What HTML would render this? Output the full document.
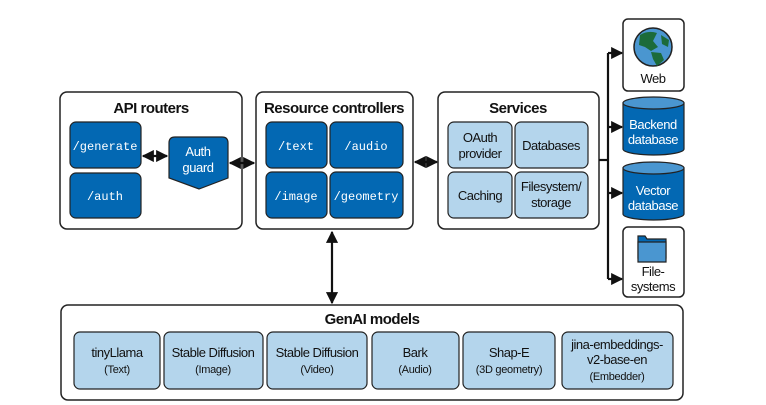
<!DOCTYPE html>
<html><head><meta charset="utf-8"><style>
html,body{margin:0;padding:0;background:#fff;}
svg{display:block;}
text{font-family:"Liberation Sans",sans-serif;}
.t{font-size:15px;font-weight:bold;fill:#111;letter-spacing:-0.5px}
.m{font-family:"Liberation Mono",monospace;font-size:12px;fill:#fff}
.w{font-size:13px;fill:#fff;letter-spacing:-0.4px}
.k{font-size:13px;fill:#111;letter-spacing:-0.5px}
.s{font-size:11px;fill:#111;letter-spacing:-0.3px}
</style></head><body>
<svg width="766" height="405" viewBox="0 0 766 405" xmlns="http://www.w3.org/2000/svg">
<defs>
<marker id="a" viewBox="0 0 10 10" refX="9" refY="5" markerWidth="5.5" markerHeight="5.5" orient="auto-start-reverse"><path d="M0,0L10,5L0,10z" fill="#111"/></marker>
</defs>
<g stroke="#222" stroke-width="1.5" fill="#fff">
<rect x="60" y="92" width="182" height="137" rx="7"/>
<rect x="256" y="92" width="157" height="137" rx="7"/>
<rect x="438" y="92" width="161" height="137" rx="7"/>
<rect x="61" y="305" width="622" height="95" rx="7"/>
<rect x="623" y="19" width="61" height="72" rx="5"/>
<rect x="623" y="227" width="61" height="70" rx="5"/>
</g>
<text class="t" x="151" y="113" text-anchor="middle">API routers</text>
<text class="t" x="334" y="113" text-anchor="middle">Resource controllers</text>
<text class="t" x="518" y="113" text-anchor="middle">Services</text>
<text class="t" x="372" y="324" text-anchor="middle">GenAI models</text>
<g fill="#0368b3" stroke="#222" stroke-width="1.2">
<rect x="70" y="122" width="71" height="46" rx="6"/>
<rect x="70" y="173" width="71" height="45" rx="6"/>
<path d="M175,137 H222 Q228,137 228,143 V178 L199,189 L169,178 V143 Q169,137 175,137z"/>
<rect x="266" y="122" width="61" height="46" rx="6"/>
<rect x="330" y="122" width="73" height="46" rx="6"/>
<rect x="266" y="172" width="61" height="46" rx="6"/>
<rect x="330" y="172" width="73" height="46" rx="6"/>
</g>
<text class="m" x="105" y="150" text-anchor="middle">/generate</text>
<text class="m" x="105" y="200" text-anchor="middle">/auth</text>
<text class="w" x="198" y="156" text-anchor="middle">Auth</text>
<text class="w" x="198" y="172" text-anchor="middle">guard</text>
<text class="m" x="296" y="150" text-anchor="middle">/text</text>
<text class="m" x="366" y="150" text-anchor="middle">/audio</text>
<text class="m" x="296" y="200" text-anchor="middle">/image</text>
<text class="m" x="366" y="200" text-anchor="middle">/geometry</text>
<g fill="#b4d5ec" stroke="#222" stroke-width="1.2">
<rect x="448" y="122" width="64" height="46" rx="6"/>
<rect x="515" y="122" width="73" height="46" rx="6"/>
<rect x="448" y="172" width="64" height="46" rx="6"/>
<rect x="515" y="172" width="73" height="46" rx="6"/>
<rect x="74" y="332" width="86" height="57" rx="6"/>
<rect x="164" y="332" width="99" height="57" rx="6"/>
<rect x="267" y="332" width="100" height="57" rx="6"/>
<rect x="372" y="332" width="87" height="57" rx="6"/>
<rect x="463" y="332" width="92" height="57" rx="6"/>
<rect x="562" y="332" width="111" height="57" rx="6"/>
</g>
<text class="k" x="480" y="142" text-anchor="middle">OAuth</text>
<text class="k" x="480" y="158" text-anchor="middle">provider</text>
<text class="k" x="551" y="150" text-anchor="middle">Databases</text>
<text class="k" x="480" y="200" text-anchor="middle">Caching</text>
<text class="k" x="551" y="191" text-anchor="middle">Filesystem/</text>
<text class="k" x="551" y="207" text-anchor="middle">storage</text>
<g text-anchor="middle">
<text class="k" x="117" y="357">tinyLlama</text><text class="s" x="117" y="373">(Text)</text>
<text class="k" x="213" y="357">Stable Diffusion</text><text class="s" x="213" y="373">(Image)</text>
<text class="k" x="317" y="357">Stable Diffusion</text><text class="s" x="317" y="373">(Video)</text>
<text class="k" x="415" y="357">Bark</text><text class="s" x="415" y="373">(Audio)</text>
<text class="k" x="509" y="357">Shap-E</text><text class="s" x="509" y="373">(3D geometry)</text>
<text class="k" x="617" y="349">jina-embeddings-</text><text class="k" x="617" y="364">v2-base-en</text><text class="s" x="617" y="380">(Embedder)</text>
</g>
<g stroke="#222" stroke-width="1.2">
<path d="M623,103 V149 A30.5,6 0 0 0 684,149 V103z" fill="#0368b3"/>
<ellipse cx="653.5" cy="103" rx="30.5" ry="6" fill="#4a96d0"/>
<path d="M623,168 V214 A30.5,6 0 0 0 684,214 V168z" fill="#0368b3"/>
<ellipse cx="653.5" cy="168" rx="30.5" ry="6" fill="#4a96d0"/>
</g>
<text class="w" x="653" y="129" text-anchor="middle">Backend</text>
<text class="w" x="653" y="144" text-anchor="middle">database</text>
<text class="w" x="653" y="195" text-anchor="middle">Vector</text>
<text class="w" x="653" y="210" text-anchor="middle">database</text>
<circle cx="653" cy="47" r="19" fill="#4a96d0" stroke="#222" stroke-width="1.5"/>
<path d="M640,35 Q648,30 657,33 L653,41 L658,47 L651,51 L645,47 L639,45z" fill="#1c6b3a"/>
<path d="M651,52 L661,53 L664,60 L657,66 L653,59z" fill="#1c6b3a"/>
<path d="M661,35 L669,40 L668,47 L662,44z" fill="#1c6b3a"/>
<text class="k" x="653" y="83" text-anchor="middle">Web</text>
<g stroke="#222" stroke-width="1.2">
<path d="M638,236 H645 L647,239 H666 V258 H638z" fill="#0368b3"/>
<path d="M638,242 H666 V262 H638z" fill="#4a96d0"/>
</g>
<text class="k" x="653" y="276" text-anchor="middle">File-</text>
<text class="k" x="653" y="291" text-anchor="middle">systems</text>
<g stroke="#111" stroke-width="2.2" fill="none">
<line x1="143" y1="156" x2="167" y2="156" marker-start="url(#a)" marker-end="url(#a)"/>
<line x1="230" y1="163" x2="254" y2="163" marker-start="url(#a)" marker-end="url(#a)"/>
<line x1="415" y1="162" x2="437" y2="162" marker-start="url(#a)" marker-end="url(#a)"/>
<line x1="332" y1="232" x2="332" y2="303" marker-start="url(#a)" marker-end="url(#a)"/>
<line x1="599" y1="160" x2="608" y2="160"/>
<line x1="608" y1="53" x2="608" y2="279"/>
<line x1="608" y1="53" x2="622" y2="53" marker-end="url(#a)"/>
<line x1="608" y1="127" x2="622" y2="127" marker-end="url(#a)"/>
<line x1="608" y1="193" x2="622" y2="193" marker-end="url(#a)"/>
<line x1="608" y1="279" x2="622" y2="279" marker-end="url(#a)"/>
</g>
</svg>
</body></html>
